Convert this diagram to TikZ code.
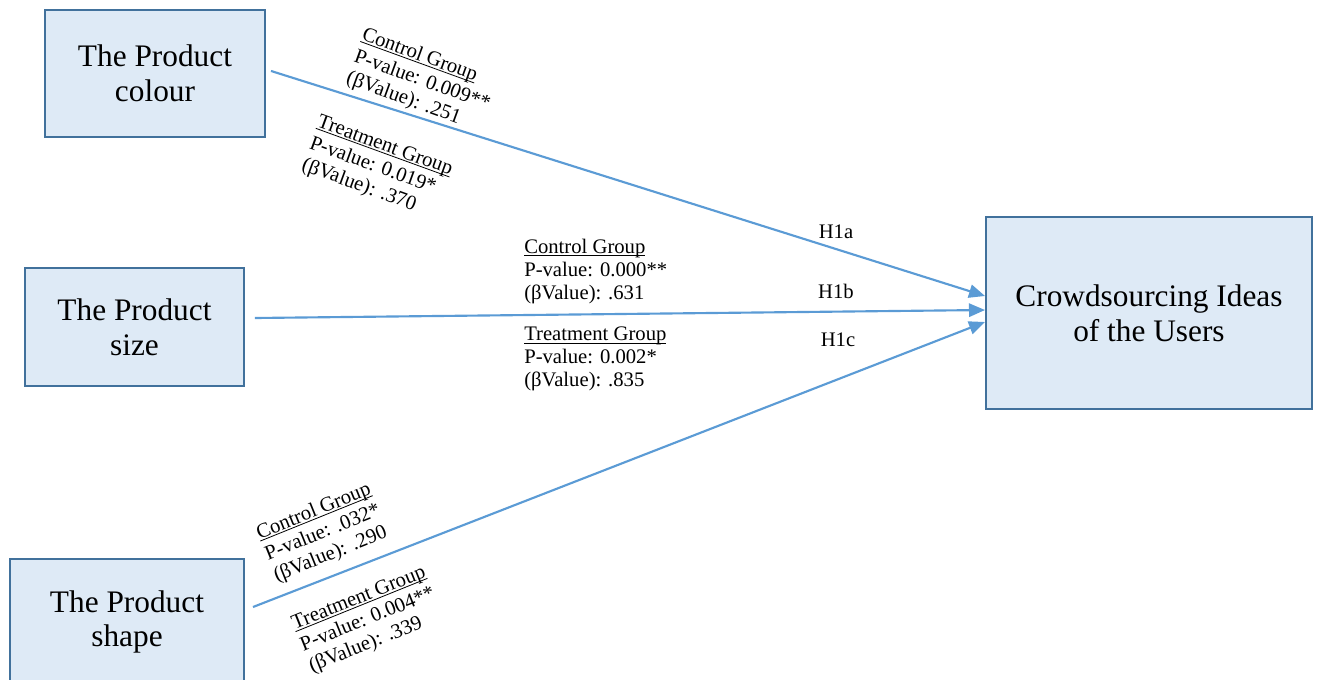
\documentclass[tikz,border=0pt]{standalone}
\usepackage{fontspec}
\setmainfont{Liberation Serif}
\usepackage{tikz}
\usetikzlibrary{positioning, arrows.meta}

\definecolor{boxfill}{RGB}{222,234,246}
\definecolor{boxline}{RGB}{65,113,156}
\definecolor{arrowline}{RGB}{91,155,213}

% underlined group heading, rule close to the baseline
\newcommand{\grouphead}[1]{\setbox0\hbox{#1}\rlap{\rule[-1.8pt]{\wd0}{0.6pt}}\box0}

\begin{document}
\begin{tikzpicture}[
    x=0.75pt, y=-0.75pt,
    block/.style={rectangle, draw=boxline, fill=boxfill, line width=1.5pt,
                  align=center, font=\fontsize{23.5}{26}\selectfont},
    arrow/.style={-{Triangle[length=12pt, width=10pt]}, draw=arrowline, line width=1.6pt},
    label/.style={align=left, inner sep=0pt, font=\fontsize{15.5}{17.25}\selectfont},
    hyp/.style={font=\fontsize{15.5}{17.25}\selectfont}
]

    \clip (0,0) rectangle (1317,679);

    % Independent variables
    \node[block, minimum width=165pt, minimum height=95pt] (colour) at (155,73.5) {The Product\\colour};
    \node[block, minimum width=164pt, minimum height=88.5pt] (size) at (134.5,327) {The Product\\size};
    \node[block, minimum width=175.5pt, minimum height=95pt] (shape) at (127,622) {The Product\\shape};

    % Dependent variable
    \node[block, minimum width=244.5pt, minimum height=144pt] (target) at (1149,313) {Crowdsourcing Ideas\\of the Users};

    % Arrows
    \draw[arrow] ([xshift=3.75pt, yshift=1.9pt]colour.east) -- ([yshift=12.75pt]target.west);
    \draw[arrow] ([xshift=7.5pt, yshift=6.75pt]size.east) -- ([yshift=2.25pt]target.west);
    \draw[arrow] ([xshift=6pt, yshift=11.25pt]shape.east) -- ([yshift=-6.75pt]target.west);

    % Hypotheses
    \node[hyp] (h1a) at (836,232) {H1a};
    \node[hyp] (h1b) at (836,291) {H1b};
    \node[hyp] (h1c) at (838,340) {H1c};

    % Colour results
    \node[label, rotate=-20] (colctrl) at (422,81) {\grouphead{Control Group}\\P-value: 0.009**\\(βValue): .251};
    \node[label, rotate=-20] (coltreat) at (377,168) {\grouphead{Treatment Group}\\P-value: 0.019*\\(βValue): .370};

    % Size results
    \node[label, anchor=north west] (sizectrl) at (524,239) {\grouphead{Control Group}\\P-value: 0.000**\\(βValue): .631};
    \node[label, anchor=north west] (sizetreat) at (524,327) {\grouphead{Treatment Group}\\P-value: 0.002*\\(βValue): .835};

    % Shape results
    \node[label, rotate=22] (shpctrl) at (323,533) {\grouphead{Control Group}\\P-value: .032*\\(βValue): .290};
    \node[label, rotate=22] (shptreat) at (368,620) {\grouphead{Treatment Group}\\P-value: 0.004**\\(βValue): .339};

\end{tikzpicture}
\end{document}
